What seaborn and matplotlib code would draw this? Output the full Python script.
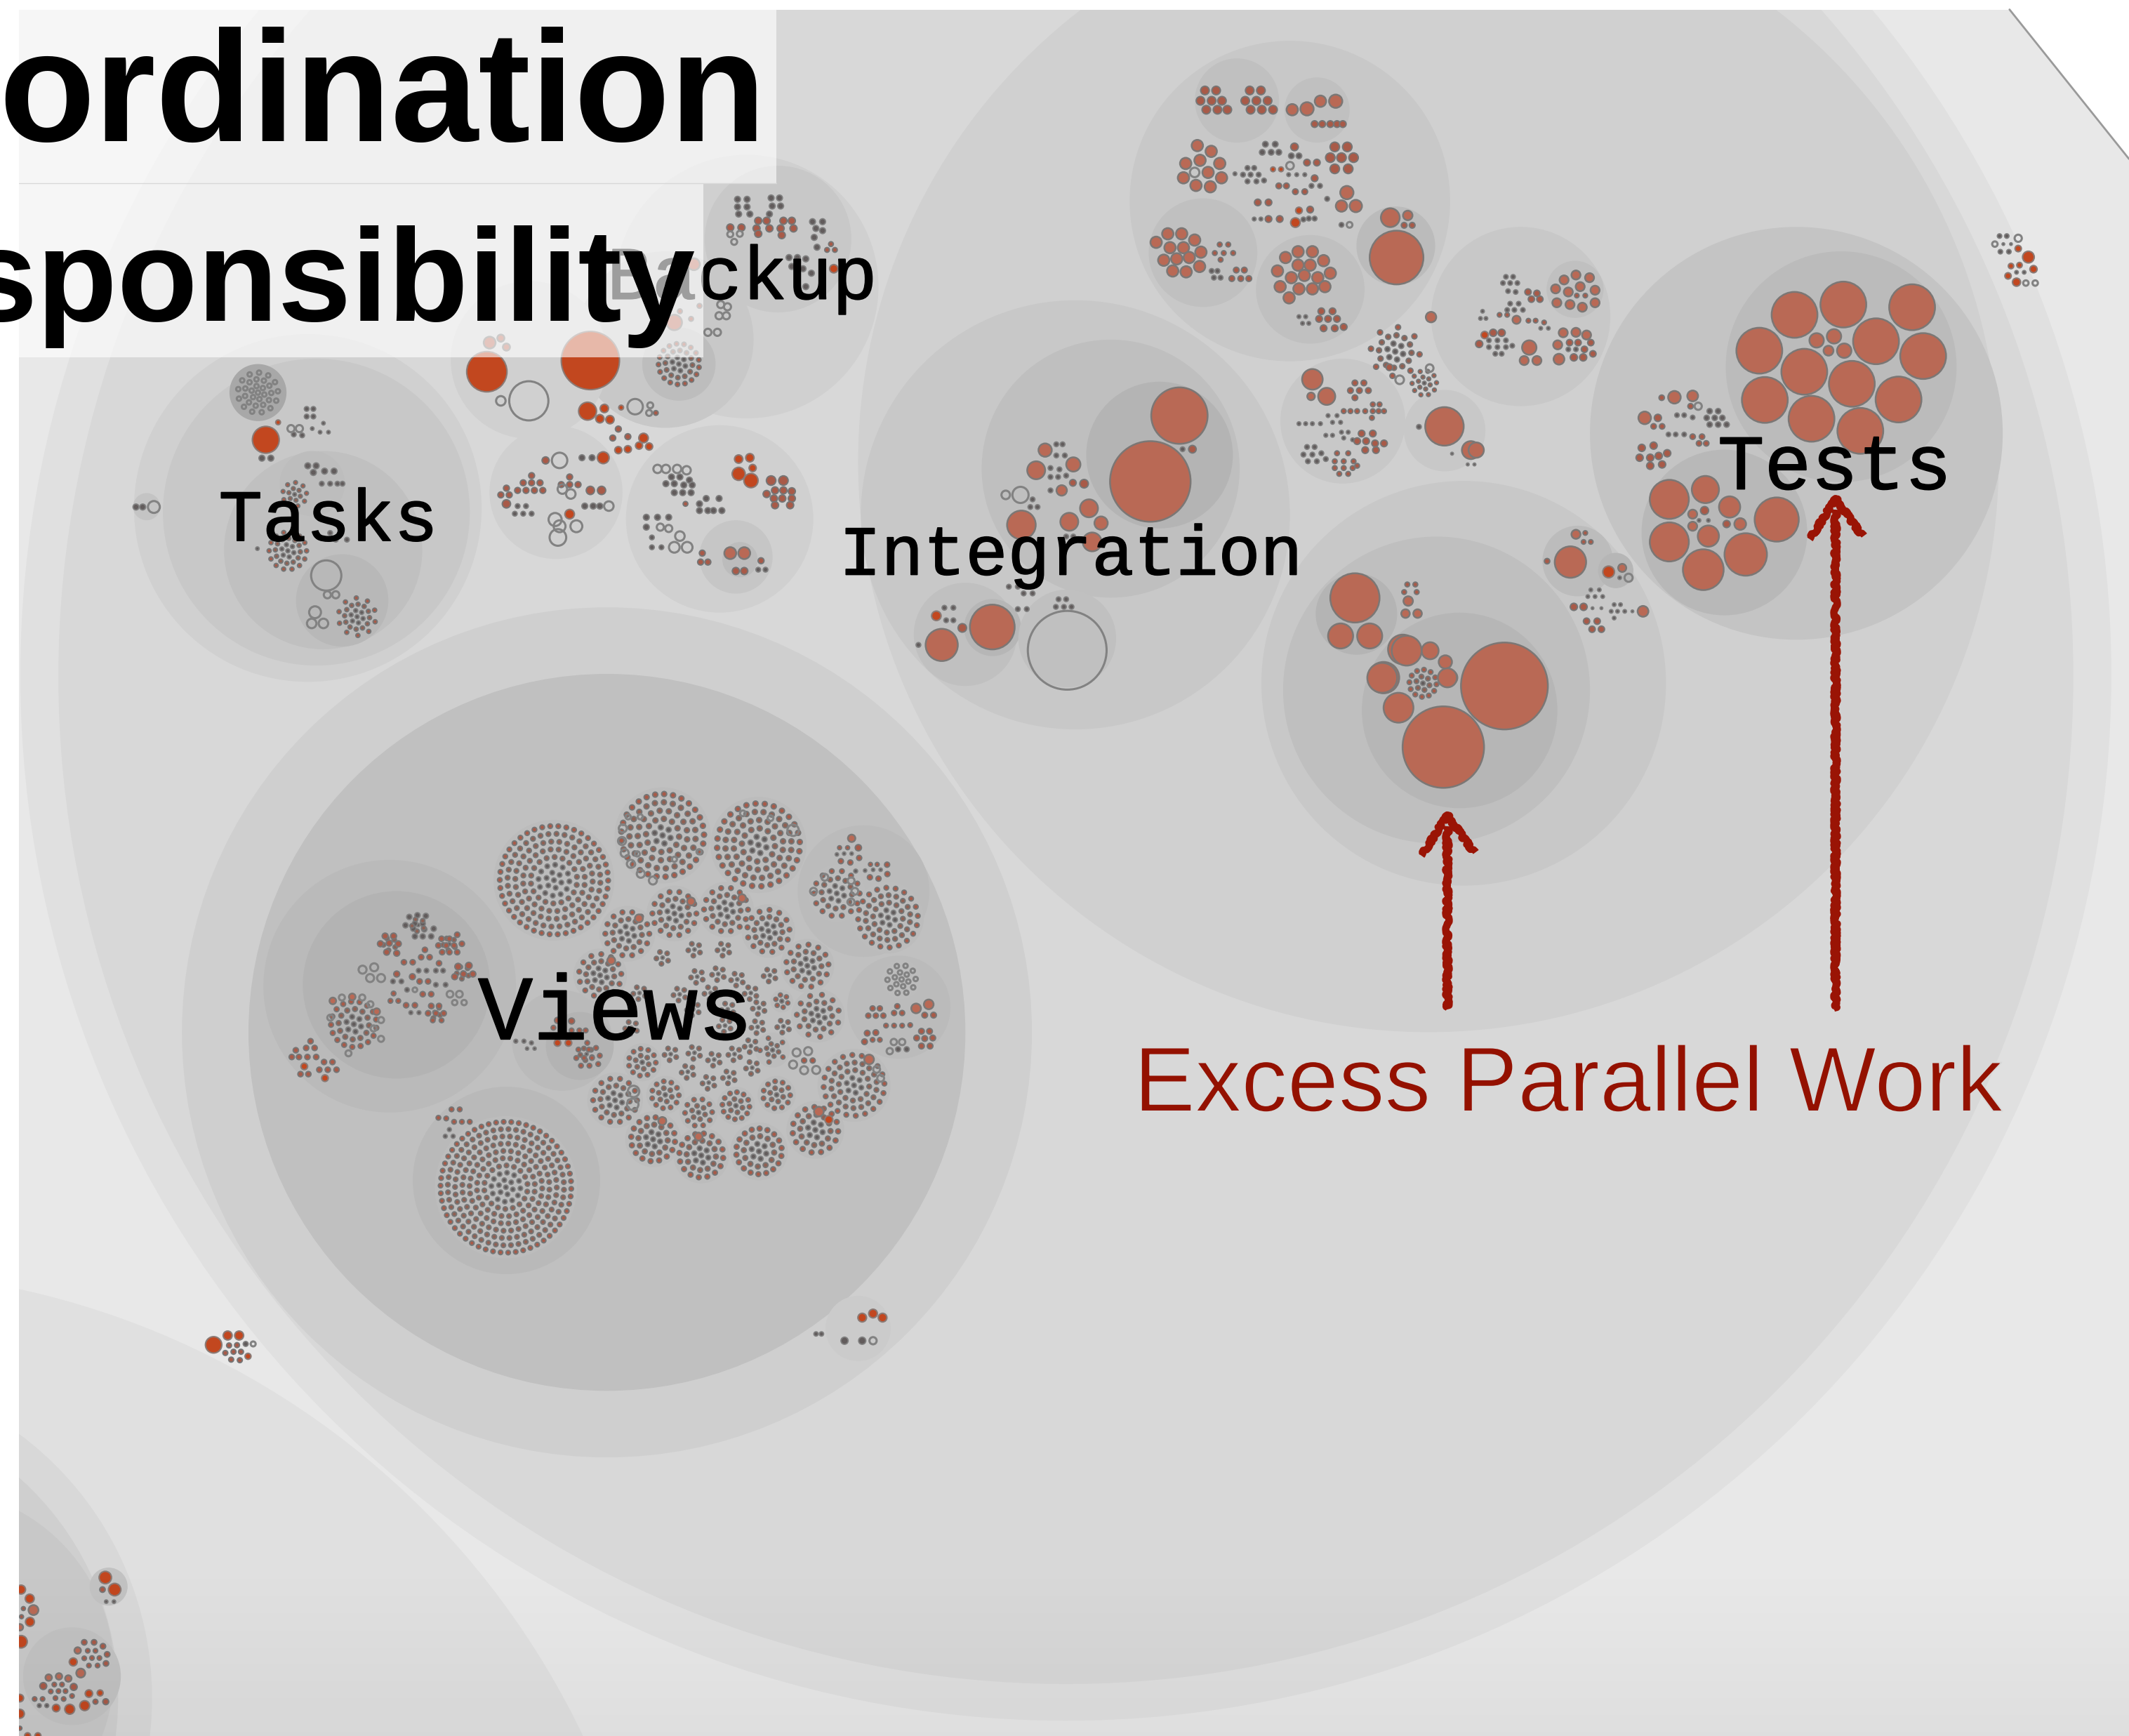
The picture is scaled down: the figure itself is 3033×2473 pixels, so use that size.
"""
Circle packing of a code base: excess parallel work by module.
Positions are read off the reference, in its 1568 px wide preview frame or in
the frame of a zoomed crop (converted by from_crop).
"""
import numpy as np
import pandas as pd
import matplotlib
matplotlib.use("Agg")
import matplotlib.pyplot as plt
import matplotlib.patheffects as pe
import seaborn as sns

DPI = 100
W_PX, H_PX = 3033, 2473
PREVIEW_W, PREVIEW_H = 1568, 1278
PT_PER_UNIT = (W_PX / PREVIEW_W) * 72 / DPI
DOT_GROW = 1.06

# enclosing circles, back to front: x, y, r, shade (preview frame)
CIRCLES = [
    (785, 497, 770, "#e0e0e0"), (785, 498, 742, "#d8d8d8"),
    (-114, 1537, 602, "#e0e0e0"), (-130, 1250, 242, "#d8d8d8"), (-130, 1250, 217, "#cfcfcf"),
    (-50, 1230, 134, "#c8c8c8"), (53, 1234, 36, "#c2c2c2"), (80, 1168, 14, "#c2c2c2"),
    (1052, 340, 420, "#d0d0d0"),
    (447, 760, 313, "#cfcfcf"), (447, 760, 264, "#c0c0c0"),
    (287, 726, 93, "#bababa"), (292, 725, 69, "#b3b3b3"),
    (414, 766, 37, "#bababa"), (427, 770, 25, "#b3b3b3"),
    (373, 869, 69, "#b9b9b9"), (373, 875, 50, "#b0b0b0"),
    (636, 656, 48.5, "#bbbbbb"), (662, 741.5, 38, "#bbbbbb"),
    (632, 978, 24, "#cbcbcb"),
    (226.7, 374, 128, "#d0d0d0"), (233, 377, 113, "#c8c8c8"), (238, 405, 73, "#c0c0c0"),
    (252, 442, 34, "#b8b8b8"), (230, 356, 24, "#bdbdbd"), (190, 289, 21, "#a8a8a8"),
    (108, 373, 10, "#c4c4c4"),
    (550, 211, 97, "#d0d0d0"), (573, 176, 54, "#c8c8c8"), (490, 250, 65, "#c8c8c8"),
    (500, 268, 27, "#bdbdbd"),
    (390, 265, 58, "#d0d0d0"), (409.5, 362.5, 49, "#d0d0d0"), (530, 382, 69, "#d0d0d0"),
    (542, 410, 27, "#c6c6c6"), (545, 412, 13, "#bcbcbc"),
    (792, 379, 158, "#c8c8c8"), (818, 345, 95, "#bfbfbf"), (854, 335, 54, "#b4b4b4"),
    (711, 467, 38, "#c0c0c0"), (731, 462, 21, "#b6b6b6"), (786, 470, 36, "#c0c0c0"),
    (950, 148, 118, "#c8c8c8"), (911, 74, 31, "#c0c0c0"), (970, 81, 24, "#c0c0c0"),
    (886, 186, 40, "#c0c0c0"), (965, 213, 40, "#c0c0c0"), (1028, 181, 29, "#bbbbbb"),
    (1120, 233, 66, "#c8c8c8"), (1160, 213, 21, "#c0c0c0"),
    (989, 310, 46, "#c8c8c8"), (1064, 317, 30, "#c8c8c8"),
    (1078, 503, 149, "#c8c8c8"), (1058, 508, 113, "#bfbfbf"), (1075, 523, 72, "#b6b6b6"),
    (999, 452, 30, "#b4b4b4"), (1162, 413, 26, "#bcbcbc"), (1190, 420, 13, "#b6b6b6"),
    (1323, 319, 152, "#c4c4c4"), (1356, 270, 85, "#bbbbbb"), (1270, 392, 61, "#b8b8b8"),
]

# packed blobs: centre, dots per ring from the centre outward (preview frame)
BLOB_X = [408, 488, 558.6, 372.6, 496.7, 534.7, 565.9, 462, 442, 594.6, 654, 616.3, 664, 602.5,
          629, 600.5, 559, 516.5, 481, 572, 542, 514.5, 490, 453, 473, 569, 575.8,
          260.6, 500, 1027.6, 1049, 1048, 263, 212, 217, 190]
BLOB_Y = [648, 615, 622, 874, 672.5, 669.6, 685.4, 687.4, 718, 711, 675.5, 657.7, 721, 747.7,
          799, 831.8, 847.6, 850.6, 838.7, 806, 814, 819, 806, 810, 782, 773, 737,
          754, 268, 258.8, 282, 503, 454, 405.5, 364, 289]
BLOB_STEP = [5.7, 6.1, 6.1, 5.35, 5.4, 5.4, 5.2, 5.4, 5.2, 5.2, 5.5, 5.6, 5.2, 5.2,
             5.6, 5.6, 5.6, 5.4, 5.4, 5.0, 5.0, 5.0, 5.0, 5.4, 5.0, 4.6, 4.6,
             5.6, 5.0, 6.0, 4.5, 5.0, 4.6, 4.6, 4.4, 4.9]
BLOB_DOT = [1.8, 2.0, 2.0, 1.75, 1.8, 1.8, 1.8, 1.8, 1.8, 1.8, 1.8, 1.8, 1.7, 1.8,
            1.8, 1.9, 1.9, 1.9, 1.9, 1.7, 1.7, 1.7, 1.7, 1.8, 1.7, 1.6, 1.6,
            1.9, 1.7, 2.0, 1.5, 1.8, 1.6, 1.6, 1.5, 1.7]
BLOB_RINGS = [[1, 6, 12, 18, 24, 30, 36, 42], [1, 6, 12, 17, 23, 29], [1, 6, 12, 18, 24, 28],
              [1, 6, 12, 18, 24, 30, 36, 42, 48, 54], [1, 6, 12, 14], [1, 6, 12, 14], [1, 6, 12, 13],
              [1, 6, 12, 14], [1, 6, 12, 13], [1, 6, 11, 13], [1, 6, 12, 18, 20], [1, 6, 12, 14],
              [1, 6, 10], [1, 6, 11, 11], [1, 6, 12, 18, 20], [1, 6, 12, 15], [1, 6, 12, 18],
              [1, 6, 12, 16], [1, 6, 12, 16], [1, 6, 11], [1, 6, 12], [1, 6, 10], [1, 6, 11],
              [1, 6, 12, 14], [1, 6, 11], [1, 6, 5], [1, 6],
              [1, 6, 12, 17], [1, 6, 12, 17], [1, 6, 12, 8], [1, 6, 10], [1, 6, 12], [1, 6, 12, 10],
              [1, 6, 12, 14], [1, 6, 9], [1, 6, 11, 13]]
BLOB_HOLLOW = {12, 35}

# little clusters in the Views circle, drawn as a dot with a ring of five
SMALL_X = [511.5, 533, 488, 513.5, 529, 543, 567, 500.6, 523.4, 553, 559, 577, 558, 471, 465, 536,
           510.5, 534, 494, 511.5, 526, 541, 553, 506.6, 522, 537, 554, 308, 287, 331, 341, 320, 432]
SMALL_Y = [699, 699, 705, 719, 717, 721, 718, 732, 731, 731, 742, 755.6, 756, 731, 756.6, 743,
           743, 755, 776, 775, 780, 776, 770, 789, 797, 793, 786, 681, 695, 695, 716, 745, 776]

# dots in the frame of each crop: kind, radius, points
CROP1 = [
    ("R", 24, [(475, 982)]), ("R", 4, [(497, 943)]), ("D", 5, [(468, 1023), (484, 1023)]),
    ("R", 36, [(870, 830)]), ("R", 52, [(1055, 805)]), ("H", 35, [(945, 895)]), ("H", 8, [(895, 895)]),
    ("S", 10, [(875, 765)]), ("S", 6, [(905, 775), (895, 755)]),
    ("R", 16, [(1050, 918)]), ("R", 7, [(1080, 912), (1072, 935), (1090, 937)]), ("R", 4, [(1110, 910)]),
    ("H", 13, [(1135, 908)]), ("H", 5, [(1162, 905), (1160, 922)]), ("B", 4, [(1172, 922)]),
    ("B", 5, [(1105, 958), (1122, 975), (1095, 978)]), ("R", 8, [(1150, 978)]),
    ("R", 6, [(1105, 1005), (1122, 1003), (1142, 995), (1160, 997)]),
    ("H", 13, [(1000, 1028)]), ("B", 6, [(975, 1028)]), ("R", 10, [(1078, 1022)]), ("D", 5, [(1058, 1022), (1040, 1022)]),
    ("B", 5, [(950, 1062), (935, 1078), (950, 1078), (965, 1078), (940, 1095), (955, 1095), (970, 1095),
              (905, 1090), (895, 1105), (910, 1105), (925, 1095)]),
    ("B", 7, [(905, 1125)]), ("D", 4, [(925, 1130), (940, 1130), (920, 1147), (935, 1147), (950, 1147)]),
    ("B", 5, [(1018, 1065), (1003, 1082), (1018, 1082), (1033, 1082)]), ("H", 8, [(1005, 1092), (1020, 1103)]),
    ("B", 7, [(1055, 1095), (1075, 1095)]), ("D", 5, [(1045, 1130), (1060, 1130), (1072, 1130)]), ("H", 8, [(1088, 1130)]),
    ("R", 8, [(1018, 1148)]), ("H", 11, [(992, 1160)]), ("H", 10, [(1030, 1175), (1000, 1175)]), ("H", 14, [(997, 1200)]),
    ("H", 7, [(1175, 1047), (1190, 1047), (1210, 1047), (1227, 1050)]),
    ("D", 5, [(1200, 1065), (1215, 1065), (1232, 1072), (1190, 1080), (1205, 1080), (1222, 1083), (1237, 1083),
              (1205, 1100), (1220, 1100), (1235, 1100)]),
    ("R", 7, [(1320, 1025), (1340, 1022)]), ("R", 11, [(1320, 1058)]), ("R", 6, [(1345, 1045)]), ("R", 12, [(1342, 1073)]),
    ("B", 8, [(1378, 1073), (1400, 1073)]), ("B", 6, [(1385, 1095), (1400, 1095), (1370, 1103), (1415, 1097), (1415, 1113),
                                                       (1383, 1113), (1398, 1113), (1385, 1128), (1412, 1128)]),
    ("B", 4, [(1225, 1125)]), ("D", 5, [(1262, 1113), (1285, 1113), (1250, 1125), (1250, 1140), (1265, 1140), (1275, 1140), (1290, 1140)]),
    ("D", 5, [(1155, 1155), (1175, 1155), (1195, 1155), (1155, 1177)]), ("H", 6, [(1180, 1177), (1195, 1180)]),
    ("D", 4, [(1165, 1200), (1182, 1222), (1165, 1222)]), ("H", 8, [(1215, 1197)]), ("H", 9, [(1205, 1222), (1228, 1222)]),
    ("B", 5, [(1255, 1235), (1252, 1255), (1265, 1255)]), ("S", 10, [(1305, 1235), (1330, 1235)]),
    ("B", 6, [(1315, 1275), (1330, 1275)]), ("B", 5, [(1360, 1252)]), ("D", 4, [(1355, 1272), (1368, 1272)]),
    ("D", 5, [(1318, 445), (1335, 445), (1378, 442), (1393, 442), (1318, 462), (1335, 462), (1380, 460), (1395, 460),
              (1320, 478), (1340, 478), (1375, 478)]),
    ("B", 6, [(1355, 493), (1370, 493), (1400, 493), (1415, 493), (1305, 508), (1325, 508), (1352, 510), (1375, 510),
              (1395, 510), (1418, 510), (1355, 522), (1397, 525)]),
    ("H", 5, [(1305, 523), (1322, 522), (1312, 540)]),
    ("D", 5, [(1452, 495), (1470, 495), (1458, 510), (1470, 515), (1455, 530), (1460, 552)]),
    ("B", 4, [(1485, 545), (1478, 558), (1492, 558)]), ("R", 7, [(1490, 600)]),
    ("D", 5, [(1410, 575), (1425, 575), (1440, 578), (1415, 595), (1435, 600), (1450, 610), (1440, 640)]),
    ("H", 6, [(1288, 680), (1300, 685), (1285, 705), (1298, 705), (1265, 742), (1282, 742)]),
    ("S", 13, [(1205, 720)]), ("S", 10, [(1240, 590)]), ("B", 4, [(1215, 695), (1235, 712), (1250, 683)]),
    ("D", 5, [(550, 1040), (565, 1040), (560, 1055), (580, 1052), (597, 1052)]),
    ("D", 4, [(575, 1080), (590, 1080), (603, 1080), (612, 1080), (600, 1205), (620, 1205), (590, 1190)]),
    ("D", 3, [(460, 1225)]), ("H", 27, [(583, 1285)]), ("H", 6, [(585, 1328), (600, 1328)]),
    ("H", 10, [(563, 1367)]), ("H", 8, [(578, 1392), (557, 1392)]),
    ("D", 4, [(548, 913), (560, 913), (548, 930), (560, 930), (525, 970), (540, 972)]),
    ("H", 6, [(520, 957), (535, 957)]), ("D", 3, [(558, 957), (578, 945), (572, 965), (587, 965)]),
    ("D", 5, [(243, 1132), (255, 1132)]), ("H", 10, [(275, 1132)]),
]
CROP2 = [
    ("B", 9, [(810, 202), (835, 202), (800, 225), (825, 225), (848, 225), (813, 245), (838, 245), (860, 245),
              (910, 202), (935, 202), (900, 225), (925, 225), (950, 225), (912, 245), (937, 245), (962, 245)]),
    ("S", 12, [(1005, 245), (1068, 226)]), ("S", 14, [(1038, 243), (1102, 226)]),
    ("B", 7, [(1055, 277), (1072, 277), (1090, 277), (1105, 277), (1118, 277)]),
    ("S", 12, [(793, 325), (824, 338), (799, 358), (843, 365), (767, 365), (817, 385), (847, 397), (762, 397), (790, 414), (822, 417)]),
    ("H", 10, [(787, 385)]),
    ("D", 6, [(945, 322), (967, 322), (938, 340), (958, 340), (975, 340), (1003, 348), (1020, 348)]),
    ("B", 8, [(1010, 328)]), ("B", 7, [(1038, 363), (1060, 363), (1055, 398)]), ("H", 8, [(1000, 370)]),
    ("R", 5, [(962, 378), (980, 378)]), ("D", 4, [(877, 388), (997, 390), (1015, 390), (1033, 390)]),
    ("D", 5, [(905, 375), (920, 375), (895, 390), (912, 390), (930, 390), (905, 405), (925, 405), (942, 403), (1048, 415), (1067, 415)]),
    ("B", 6, [(975, 415), (992, 415), (1012, 428), (1033, 428)]),
    ("B", 10, [(1100, 328), (1128, 328), (1090, 352), (1115, 352), (1142, 352), (1100, 377), (1130, 377)]),
    ("S", 14, [(1127, 430)]), ("S", 12, [(1115, 460)]), ("S", 13, [(1147, 460)]), ("D", 5, [(1083, 444), (1115, 502)]), ("H", 6, [(1133, 502)]),
    ("B", 7, [(928, 452), (952, 452), (952, 489), (977, 489), (1045, 468)]), ("D", 4, [(920, 489), (935, 489)]),
    ("R", 7, [(1020, 470)]), ("R", 10, [(1012, 497)]), ("D", 5, [(1030, 490), (1055, 488), (1042, 488)]),
    ("S", 21, [(1224, 486)]), ("S", 10, [(1263, 481)]), ("B", 6, [(1255, 503), (1273, 503)]), ("S", 60, [(1238, 575)]),
    ("S", 12, [(727, 522), (758, 522), (701, 541), (787, 536), (732, 553), (762, 553), (718, 581), (747, 578), (775, 575),
               (801, 563), (738, 605), (768, 607), (798, 595)]),
    ("B", 5, [(843, 546), (862, 546), (832, 565), (852, 565), (873, 565), (845, 580)]),
    ("D", 5, [(825, 605), (838, 605), (830, 620), (845, 620)]), ("B", 6, [(880, 603), (898, 603), (870, 622), (890, 622), (908, 622)]),
    ("S", 12, [(1018, 562), (1050, 562), (990, 575), (1075, 582), (1018, 592), (1045, 592), (972, 605), (1003, 620),
               (1032, 615), (1062, 620), (1090, 610), (978, 640), (1020, 645), (1050, 645), (1078, 640), (998, 665)]),
    ("D", 4, [(1020, 707), (1035, 707), (1028, 722), (1042, 722)]),
    ("B", 7, [(1070, 695), (1095, 695), (1065, 712), (1085, 712), (1105, 712), (1075, 733), (1100, 733), (1120, 730)]),
    ("S", 11, [(1315, 708)]), ("B", 7, [(1222, 820)]), ("H", 9, [(1245, 848)]), ("H", 8, [(1312, 822)]),
    ("S", 43, [(1345, 952)]), ("S", 20, [(1404, 1005)]), ("D", 5, [(1288, 953)]), ("D", 3, [(1362, 1013), (1397, 1037), (1412, 1037)]),
    ("S", 23, [(1050, 847)]), ("S", 18, [(1082, 885)]), ("S", 8, [(1047, 885)]),
    ("B", 6, [(1145, 855), (1165, 855), (1135, 872), (1155, 872), (1175, 872), (1145, 888)]),
    ("B", 5, [(1120, 918), (1135, 918), (1150, 918), (1168, 918), (1185, 903), (1200, 903), (1185, 918), (1198, 918), (1210, 918), (1183, 933)]),
    ("D", 4, [(1020, 946), (1035, 946), (1050, 946), (1068, 946), (1085, 928), (1105, 928), (1095, 943), (1113, 943),
              (1080, 972), (1095, 972), (1115, 965), (1130, 965), (1120, 978), (1140, 982)]),
    ("B", 7, [(1160, 968), (1185, 968), (1150, 985), (1170, 985), (1190, 990), (1210, 990), (1168, 1005), (1192, 1005)]),
    ("D", 5, [(1038, 998), (1055, 998), (1030, 1015), (1050, 1015), (1070, 1012), (1040, 1030), (1060, 1030), (1080, 1025)]),
    ("B", 5, [(1105, 1012), (1130, 1012), (1100, 1030), (1120, 1030), (1142, 1030), (1100, 1045), (1120, 1045), (1140, 1045),
              (1110, 1058), (1130, 1058), (1150, 1040)]),
    ("S", 63, [(753, 928)]), ("S", 90, [(688, 1075)]), ("B", 8, [(782, 1003)]), ("D", 5, [(760, 1003)]),
    ("S", 14, [(453, 1005)]), ("S", 20, [(433, 1050)]), ("S", 15, [(516, 1037)]), ("S", 32, [(400, 1172)]),
    ("S", 20, [(507, 1165), (551, 1135)]), ("S", 14, [(578, 1168)]), ("S", 21, [(558, 1210)]), ("S", 11, [(490, 1095)]),
    ("B", 9, [(540, 1080)]), ("B", 7, [(515, 1078)]),
    ("H", 17, [(398, 1105)]), ("H", 9, [(365, 1105)]),
    ("D", 5, [(478, 992), (492, 992), (478, 1017), (497, 1017), (465, 1045), (485, 1048), (500, 1062), (465, 1065), (482, 1065),
              (465, 1095), (425, 1115), (420, 1132), (436, 1132), (500, 1198), (516, 1198)]),
    ("S", 36, [(222, 1440)]), ("S", 50, [(335, 1400)]), ("B", 9, [(268, 1402)]), ("R", 10, [(210, 1375)]),
    ("D", 5, [(228, 1357), (248, 1357), (232, 1385), (248, 1385), (170, 1440)]),
    ("D", 5, [(483, 1338), (500, 1338), (477, 1355), (495, 1355), (512, 1355), (392, 1360), (412, 1360),
              (372, 1310), (392, 1310), (405, 1325), (425, 1325)]),
    ("S", 55, [(1145, 1335)]), ("S", 28, [(1113, 1420), (1178, 1420)]), ("S", 33, [(1252, 1450)]), ("S", 19, [(1313, 1453)]),
    ("S", 14, [(1347, 1478)]), ("S", 35, [(1209, 1513)]), ("S", 15, [(1358, 1513)]), ("B", 5, [(1262, 1305), (1280, 1305), (1255, 1322), (1283, 1322)]),
    ("S", 10, [(1264, 1342)]), ("S", 9, [(1258, 1370), (1285, 1370)]),
]
CROP3 = [
    ("S", 54, [(755, 703), (870, 680), (1032, 686), (672, 783), (947, 762), (1058, 795), (778, 830), (890, 857), (685, 893), (1000, 892), (795, 935), (910, 962)]),
    ("S", 16, [(807, 760), (848, 751), (872, 783)]), ("S", 11, [(835, 783)]),
    ("S", 46, [(460, 1115), (460, 1210)]), ("S", 32, [(545, 1093)]), ("S", 25, [(602, 1132), (552, 1197)]), ("S", 52, [(713, 1160)]),
    ("S", 50, [(640, 1238)]), ("S", 48, [(540, 1272)]), ("S", 13, [(627, 1170)]), ("B", 8, [(595, 1170)]),
    ("S", 10, [(515, 1148), (515, 1175)]), ("B", 9, [(543, 1140)]), ("D", 4, [(530, 1162), (552, 1162)]),
    ("S", 14, [(472, 887), (402, 933)]), ("S", 12, [(515, 884)]), ("B", 6, [(442, 888), (510, 907), (423, 952), (443, 952)]),
    ("H", 8, [(528, 907)]), ("B", 8, [(433, 933)]), ("D", 5, [(478, 927), (495, 927), (515, 932), (458, 970), (475, 970), (495, 970)]),
    ("D", 6, [(555, 918), (575, 918), (548, 933), (567, 933), (585, 933), (555, 948), (575, 948), (595, 948)]),
    ("B", 6, [(515, 975), (537, 975), (530, 990), (547, 990)]),
    ("B", 8, [(395, 1000), (423, 995), (390, 1022), (415, 1022), (435, 1018), (455, 1012), (415, 1040), (443, 1037)]),
    ("S", 10, [(240, 614), (212, 625), (272, 620), (192, 645), (250, 640), (222, 652), (285, 648), (195, 676), (226, 680), (255, 686), (285, 676)]),
    ("B", 5, [(242, 660), (262, 660)]),
    ("D", 5, [(75, 618), (92, 618), (68, 632), (85, 632), (102, 632), (80, 650), (98, 652), (85, 678), (105, 678), (78, 692), (95, 692), (115, 692)]),
    ("B", 7, [(127, 652), (148, 655), (135, 668), (155, 668)]), ("B", 5, [(60, 703), (78, 703), (128, 716), (145, 716), (165, 720)]),
    ("S", 9, [(100, 714)]), ("D", 4, [(157, 733), (175, 733), (20, 695), (15, 711), (28, 711)]),
    ("S", 16, [(130, 776)]), ("S", 10, [(118, 805), (148, 805)]), ("R", 8, [(25, 748)]), ("B", 8, [(45, 743), (65, 743), (12, 768)]),
    ("D", 5, [(35, 775), (55, 775), (75, 775), (90, 772), (50, 790), (65, 790), (35, 760), (55, 760), (75, 760)]),
    ("S", 10, [(210, 743), (240, 742), (265, 748), (197, 770)]), ("B", 7, [(225, 765), (245, 765), (260, 780), (275, 765), (280, 790)]),
    ("S", 12, [(200, 802)]), ("B", 8, [(235, 798), (257, 798)]), ("D", 5, [(222, 780), (240, 780)]),
    ("S", 17, [(5, 1005)]), ("S", 10, [(240, 1193)]), ("B", 5, [(262, 1190), (258, 1210), (275, 1210)]), ("S", 37, [(227, 1255)]),
    ("B", 6, [(172, 1253)]), ("R", 13, [(317, 1277)]), ("S", 9, [(349, 1268)]), ("H", 9, [(364, 1290)]), ("D", 4, [(343, 1290)]),
    ("D", 4, [(275, 1317), (295, 1317), (268, 1332), (285, 1332), (303, 1332), (330, 1350), (345, 1350), (323, 1365), (338, 1365), (355, 1365), (330, 1380)]),
    ("B", 8, [(235, 1355), (258, 1355)]), ("D", 3, [(279, 1358), (300, 1358), (373, 1365)]), ("S", 12, [(398, 1365)]),
    ("B", 7, [(265, 1387), (290, 1387), (278, 1405), (300, 1405)]),
    ("D", 5, [(1238, 527), (1255, 527), (1240, 562), (1260, 562)]), ("H", 8, [(1282, 532)]), ("H", 6, [(1227, 545), (1300, 632), (1322, 632)]),
    ("D", 3, [(1247, 545), (1265, 545)]), ("R", 7, [(1282, 555), (1258, 616)]), ("R", 13, [(1306, 574)]), ("R", 6, [(1265, 594), (1285, 592)]),
    ("R", 8, [(1318, 601)]), ("D", 4, [(1278, 608), (1296, 608)]), ("R", 9, [(1278, 630)]),
]
CROP4 = [
    ("D", 8, [(522, 430), (548, 425), (575, 427), (510, 455), (540, 450), (565, 450), (600, 465), (535, 465), (570, 467), (540, 488), (565, 488), (592, 488)]),
    ("B", 9, [(445, 487), (472, 487), (430, 510), (458, 508), (487, 510), (450, 535), (482, 538)]),
    ("B", 8, [(675, 483), (625, 495), (650, 495), (615, 515), (640, 515), (665, 515), (690, 510), (627, 535), (650, 535), (675, 535)]),
    ("B", 8, [(572, 528), (560, 550), (587, 550), (505, 565), (533, 565), (617, 568)]),
    ("D", 7, [(552, 590), (577, 590), (607, 590), (630, 590), (470, 622), (497, 622), (607, 632), (638, 632), (515, 647)]),
    ("B", 10, [(678, 578), (712, 575)]), ("B", 9, [(667, 608), (695, 600), (725, 600), (482, 600), (532, 608)]),
    ("B", 8, [(555, 622), (582, 622), (565, 660), (592, 660), (512, 693), (540, 693), (592, 695), (617, 695), (582, 717), (607, 717), (632, 717)]),
    ("H", 7, [(540, 647)]), ("B", 7, [(472, 658), (462, 680), (487, 680), (597, 738), (625, 738)]), ("D", 6, [(527, 715), (553, 715)]),
    ("H", 12, [(373, 587), (410, 580), (397, 612), (432, 612)]), ("H", 10, [(652, 660), (682, 660)]), ("H", 8, [(667, 685), (697, 685)]),
    ("B", 8, [(207, 800), (160, 827), (193, 820), (220, 820), (147, 847), (170, 847), (197, 847), (225, 847), (175, 898), (200, 898),
              (250, 862), (277, 862), (235, 885), (262, 885), (290, 885)]),
    ("R", 10, [(187, 875), (253, 910)]),
    ("D", 6, [(862, 800), (888, 800), (912, 805)]), ("D", 5, [(898, 822), (922, 822)]),
    ("B", 9, [(995, 738), (1040, 740)]), ("B", 7, [(982, 760), (1012, 768), (1040, 768), (1065, 768), (1085, 768), (1090, 805), (1118, 820), (1062, 825), (1095, 825),
                                                    (1055, 850), (1080, 850), (1105, 850), (1130, 843), (1070, 873), (1097, 873), (1125, 868)]),
    ("R", 10, [(995, 805), (1030, 805)]),
    ("B", 7, [(657, 1003), (683, 1003), (615, 1028), (640, 1030), (665, 1040), (690, 1040), (715, 1040)]),
    ("D", 6, [(650, 1063), (637, 1083), (662, 1083)]),
    ("H", 9, [(270, 730), (307, 670), (372, 670), (398, 690), (432, 737), (408, 762), (432, 793), (328, 836)]),
    ("S", 10, [(340, 668), (278, 680), (418, 712)]),
]
CROP5 = [
    ("S", 13, [(1080, 245)]), ("B", 7, [(1035, 280), (1065, 280), (1150, 342), (1175, 342)]), ("B", 11, [(1105, 280)]),
    ("D", 6, [(1025, 305), (1052, 302), (1080, 302), (1130, 365), (1160, 362), (1188, 362)]),
    ("B", 9, [(1040, 330), (1075, 335), (1108, 318), (1212, 343), (1148, 390), (1180, 395), (1213, 378)]), ("D", 7, [(1095, 367)]),
    ("H", 12, [(980, 390), (1078, 403), (1092, 442), (1078, 482), (938, 442)]),
    ("S", 17, [(1320, 878), (1367, 863)]), ("B", 9, [(1158, 878), (1185, 878), (1142, 905), (1170, 905), (1198, 905), (1250, 870), (1238, 895), (1268, 895)]),
    ("B", 10, [(1352, 903), (1385, 903), (1138, 970), (1170, 968), (1128, 1002), (1340, 963), (1370, 963), (1322, 988), (1352, 990), (1382, 988), (1340, 1018), (1372, 1018)]),
    ("B", 8, [(1208, 942), (1238, 942), (1268, 942), (1298, 940), (1158, 995), (1185, 995)]),
    ("H", 11, [(1237, 1003), (1268, 1003), (1222, 1037)]), ("D", 9, [(1253, 1030), (1285, 1030)]),
    ("H", 14, [(875, 1042), (918, 1037), (862, 1087), (903, 1108), (948, 1107)]), ("B", 9, [(903, 1072), (935, 1072)]),
    ("H", 14, [(228, 208), (225, 255), (235, 300), (258, 340), (295, 377), (340, 402)]),
    ("H", 9, [(248, 165), (293, 165), (282, 303), (420, 323), (512, 295)]),
    ("H", 20, [(862, 215)]), ("H", 10, [(675, 152), (778, 170)]),
    ("S", 17, [(1145, 1068), (958, 1262)]), ("H", 12, [(1173, 1105), (1188, 1138)]), ("R", 14, [(995, 1292)]),
    ("H", 20, [(268, 1187), (265, 1235)]), ("S", 14, [(288, 543), (185, 700), (672, 468), (482, 480), (375, 1297), (510, 1355)]),
]
CROP6 = [
    ("R", 35, [(913, 268)]), ("R", 18, [(973, 237), (1022, 237)]), ("B", 10, [(979, 270), (1013, 269), (963, 295), (998, 291), (1030, 291), (988, 317), (1025, 319)]),
    ("D", 10, [(1050, 265)]), ("H", 10, [(1082, 265)]), ("R", 12, [(1060, 306)]),
    ("R", 25, [(450, 1040), (490, 1080)]), ("B", 11, [(438, 1080)]), ("D", 7, [(454, 1120), (487, 1120)]),
    ("R", 18, [(90, 1080), (127, 1110), (128, 1187)]), ("B", 8, [(100, 1143), (92, 1170)]), ("S", 20, [(143, 1148)]), ("S", 13, [(85, 1205)]),
    ("R", 25, [(90, 1253)]), ("B", 11, [(360, 1255), (402, 1255), (440, 1268), (458, 1295), (453, 1325)]), ("S", 13, [(332, 1282), (208, 1372), (252, 1368), (292, 1375)]),
    ("B", 9, [(375, 1283), (408, 1283), (360, 1308), (393, 1307), (425, 1307), (380, 1332), (417, 1332), (232, 1395), (265, 1395), (217, 1418), (250, 1417), (280, 1417),
              (148, 1443), (182, 1443), (237, 1440), (272, 1443), (308, 1433)]),
    ("R", 16, [(313, 1320)]), ("S", 18, [(345, 1357)]), ("B", 14, [(185, 1400), (315, 1403)]), ("D", 8, [(168, 1465), (200, 1465)]),
    ("R", 15, [(380, 1425), (240, 1473)]), ("R", 12, [(428, 1423)]), ("B", 10, [(408, 1452)]), ("B", 12, [(452, 1452)]), ("R", 20, [(298, 1477), (362, 1465)]),
    ("R", 15, [(85, 1440)]), ("R", 18, [(85, 1492)]), ("B", 8, [(85, 1540)]), ("R", 12, [(118, 1565), (162, 1565)]),
]
# dots read directly in the preview frame
PREVIEW_DOTS = [
    ("S", 32, [(1108, 505)]), ("S", 30, [(1063, 550)]), ("S", 11, [(1030, 521), (1018, 499), (1036, 479)]), ("S", 7, [(1066, 499)]),
    ("R", 3, [(643, 967), (635, 970), (650, 970)]), ("D", 2.5, [(622, 987), (635, 987)]), ("H", 2.5, [(643, 987)]), ("D", 1.5, [(605, 982), (601, 982)]),
    ("H", 29, [(786, 478.7)]),
]

LABELS = ["Tasks", "Integration", "Views", "Tests"]
LABEL_X = [161, 618, 352, 1265]
LABEL_Y = [398, 423, 765, 360]
LABEL_PT = [75, 72, 94, 80]

STYLE = {
    "S": ("#b96955", "#7b7775", 1.8),
    "R": ("#c2471f", "#8a7a75", 1.5),
    "B": ("#a85a48", "#767676", 1.4),
    "M": ("#8f6053", "#767676", 1.4),
    "D": ("#625c5c", "#808080", 1.3),
    "H": ("#c4c4c4", "#828282", 2.2),
}


def from_crop(groups, x0, y0, w, h, disp_w=1568, disp_h=1568):
    rows = []
    scale = W_PX / PREVIEW_W
    for kind, r, pts in groups:
        for x, y in pts:
            rows.append((kind, (x0 + x * w / disp_w) / scale, (y0 + y * h / disp_h) / scale, r * w / disp_w / scale))
    return rows


def blob_rows():
    rows = []
    for i, rings in enumerate(BLOB_RINGS):
        for j, n in enumerate(rings):
            rad = j * BLOB_STEP[i]
            if i in BLOB_HOLLOW:
                kind = "H"
            elif j < 0.3 * len(rings):
                kind = "D"
            elif j < len(rings) - 1:
                kind = "M"
            else:
                kind = "B"
            for a in np.arange(n) * 2 * np.pi / n + j * 0.3:
                rows.append((kind, BLOB_X[i] + rad * np.cos(a), BLOB_Y[i] + rad * np.sin(a), BLOB_DOT[i] * 0.94))
    for x, y in zip(SMALL_X, SMALL_Y):
        rows.append(("D", x, y, 1.3))
        for a in np.arange(5) * 2 * np.pi / 5 + 0.5:
            rows.append(("M", x + 4.6 * np.cos(a), y + 4.6 * np.sin(a), 1.6))
    return rows


def marker_area(r):
    return (2 * np.asarray(r) * PT_PER_UNIT) ** 2


sns.set_theme(style="white", rc={"axes.facecolor": "#e8e8e8"})

fig = plt.figure(figsize=(W_PX / DPI, H_PX / DPI), dpi=DPI)
ax = fig.add_axes([0, 0, 1, 1])

# backgrounds
bg = pd.DataFrame(CIRCLES, columns=["x", "y", "r", "shade"])
sns.scatterplot(data=bg, x="x", y="y", hue="shade", palette={s: s for s in bg["shade"].unique()},
                s=marker_area(bg["r"]), linewidth=0, edgecolor="none", legend=False, ax=ax)
blob_bg = pd.DataFrame({"x": BLOB_X[:27], "y": BLOB_Y[:27],
                        "r": [(len(BLOB_RINGS[i]) - 0.2) * BLOB_STEP[i] for i in range(27)]})
sns.scatterplot(data=blob_bg, x="x", y="y", color="#bcbcbc", s=marker_area(blob_bg["r"]),
                linewidth=0, edgecolor="none", legend=False, ax=ax)

# all the dots
n_blob = len(blob_rows())
rows = blob_rows()
rows += from_crop(CROP1, 0, 0, 1250, 1000)
rows += from_crop(CROP2, 1200, 0, 1000, 1000)
rows += from_crop(CROP3, 2100, 0, 933, 1000, disp_w=1543)
rows += from_crop(CROP4, 350, 1100, 700, 750)
rows += from_crop(CROP5, 800, 1100, 600, 600)
rows += from_crop(CROP6, 0, 1800, 500, 673, disp_w=1500)
for kind, r, pts in PREVIEW_DOTS:
    rows += [(kind, x, y, r) for x, y in pts]
dots = pd.DataFrame(rows, columns=["kind", "x", "y", "r"])
small = (dots["r"] < 6) & (dots.index >= n_blob)
dots.loc[small, "r"] = dots.loc[small, "r"] * DOT_GROW

for kind in ["D", "M", "B", "H", "S", "R"]:
    part = dots[dots["kind"] == kind]
    face, edge, lw = STYLE[kind]
    sns.scatterplot(data=part, x="x", y="y", color=face, edgecolor=edge, linewidth=lw,
                    s=marker_area(part["r"]), legend=False, ax=ax)
    if kind == "H":
        ax.collections[-1].set_facecolor("none")

# the page darkens slightly towards its bottom edge
shade = np.zeros((100, 2, 4))
shade[:, :, 3] = np.linspace(0, 0.04, 100)[:, None]
ax.imshow(shade, extent=(0, PREVIEW_W, PREVIEW_H, 1150), aspect="auto", zorder=3, interpolation="bilinear")

ax.set_xlim(0, PREVIEW_W)
ax.set_ylim(PREVIEW_H, 0)
ax.set_axis_off()
ax.add_patch(plt.Rectangle((0, 0), PREVIEW_W, PREVIEW_H, color="#e8e8e8", zorder=0))

heavy = [pe.withStroke(linewidth=1.2, foreground="black")]
ax.text(447, 220, "Backup", family="Liberation Mono", fontsize=77, color="black", zorder=3, path_effects=heavy)
for label, x, y, pt in zip(LABELS, LABEL_X, LABEL_Y, LABEL_PT):
    ax.text(x, y, label, family="Liberation Mono", fontsize=pt, color="black", zorder=6, path_effects=heavy)

# hand drawn arrows
for x, top in [(1066, 600), (1352, 367)]:
    for xs, ys, lw in [([x, x], [top + 8, 742], 7.5), ([x - 19, x, x + 20], [top + 30, top, top + 28], 7)]:
        line, = ax.plot(xs, ys, color="#9a1405", lw=lw, zorder=6, solid_capstyle="butt")
        line.set_sketch_params(scale=2.5, length=14, randomness=20)
thin = [pe.Normal(), pe.Stroke(linewidth=1.3, foreground="#d8d8d8")]
ax.text(835, 818, "Excess Parallel Work", family="Liberation Sans", fontsize=94.5, color="#941100", zorder=6, path_effects=thin)

# title boxes, partly covering the chart
ax.add_patch(plt.Rectangle((14, 7), 558, 128, facecolor="white", alpha=0.62, edgecolor="none", zorder=4))
ax.add_patch(plt.Rectangle((14, 135), 504, 128, facecolor="white", alpha=0.62, edgecolor="none", zorder=4))
ax.plot([14, 572], [135, 135], color="#d8d8d8", lw=1, zorder=4)

# page margin and cut corner
ax.add_patch(plt.Rectangle((0, 0), 14, PREVIEW_H, facecolor="white", edgecolor="none", zorder=5))
ax.add_patch(plt.Rectangle((0, 0), PREVIEW_W, 7, facecolor="white", edgecolor="none", zorder=5))
ax.fill([1480, PREVIEW_W, PREVIEW_W], [7, 7, 117], color="white", zorder=5)
ax.plot([1480, PREVIEW_W], [7, 117], color="#9a9a9a", lw=2, zorder=5)

ax.text(564, 104, "ordination", family="Liberation Sans", weight="bold", fontsize=161, ha="right", color="black", zorder=7)
ax.text(512, 236, "sponsibility", family="Liberation Sans", weight="bold", fontsize=135, ha="right", color="black", zorder=7)

fig.savefig("out.png", dpi=DPI)
plt.close(fig)
print("Saved: out.png")
